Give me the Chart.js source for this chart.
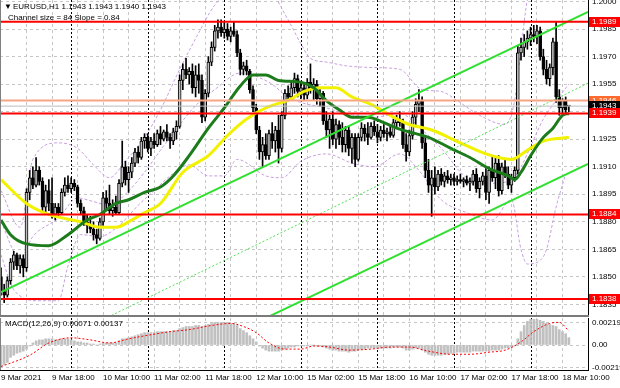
<!DOCTYPE html>
<html lang="en">
<head>
<meta charset="UTF-8">
<title>EURUSD H1</title>
<script src="https://cdn.jsdelivr.net/npm/chart.js"></script>
<style>
    html, body { margin: 0; padding: 0; background: #fff; }
    .pane { position: absolute; left: 0; width: 620px; }
    #mainPane { top: 0; height: 317px; }
    #macdPane { top: 317px; height: 71px; }
</style>
</head>
<body>
<div class="pane" id="mainPane"><canvas id="priceChart"></canvas></div>
<div class="pane" id="macdPane"><canvas id="macdChart"></canvas></div>
<script>
// EURUSD H1, one value per bar: bar 0 = 9 Mar 02:00 ... bar 178 = 18 Mar 12:00
const opens = [
    1.1850, 1.1842, 1.1840, 1.1848, 1.1858, 1.1862, 1.1856, 1.1860, 1.1855, 1.1896,
    1.1904, 1.1900, 1.1908, 1.1902, 1.1888, 1.1897, 1.1890, 1.1884, 1.1888, 1.1885,
    1.1896, 1.1900, 1.1898, 1.1901, 1.1899, 1.1890, 1.1886, 1.1880, 1.1878, 1.1876,
    1.1873, 1.1871, 1.1880, 1.1893, 1.1890, 1.1886, 1.1888, 1.1885, 1.1901, 1.1910,
    1.1903, 1.1907, 1.1912, 1.1918, 1.1915, 1.1924, 1.1926, 1.1920, 1.1924, 1.1922,
    1.1928, 1.1925, 1.1929, 1.1926, 1.1924, 1.1929, 1.1932, 1.1957, 1.1963, 1.1960,
    1.1962, 1.1953, 1.1960, 1.1957, 1.1937, 1.1950, 1.1967, 1.1975, 1.1984, 1.1986,
    1.1983, 1.1985, 1.1981, 1.1984, 1.1982, 1.1972, 1.1963, 1.1965, 1.1962, 1.1952,
    1.1942, 1.1930, 1.1918, 1.1922, 1.1916, 1.1928, 1.1924, 1.1930, 1.1920, 1.1938,
    1.1950, 1.1948, 1.1953, 1.1958, 1.1951, 1.1953, 1.1949, 1.1956, 1.1952, 1.1955,
    1.1947, 1.1950, 1.1935, 1.1930, 1.1936, 1.1925, 1.1933, 1.1926, 1.1922, 1.1930,
    1.1920, 1.1926, 1.1914, 1.1926, 1.1931, 1.1928, 1.1926, 1.1932, 1.1929, 1.1926,
    1.1930, 1.1928, 1.1929, 1.1927, 1.1934, 1.1936, 1.1934, 1.1922, 1.1918, 1.1927,
    1.1937, 1.1944, 1.1946, 1.1923, 1.1908, 1.1900, 1.1904, 1.1899, 1.1906, 1.1902,
    1.1905, 1.1903, 1.1904, 1.1902, 1.1903, 1.1902, 1.1903, 1.1901, 1.1902, 1.1906,
    1.1898, 1.1902, 1.1905, 1.1896, 1.1908, 1.1904, 1.1912, 1.1897, 1.1910, 1.1906,
    1.1900, 1.1904, 1.1908, 1.1972, 1.1975, 1.1978, 1.1980, 1.1982, 1.1981, 1.1984,
    1.1970, 1.1963, 1.1958, 1.1964, 1.1978, 1.1948, 1.1942, 1.1946, 1.1943
];
const highs = [
    1.1855, 1.1846, 1.1850, 1.1860, 1.1864, 1.1863, 1.1862, 1.1862, 1.1898, 1.1908,
    1.1910, 1.1915, 1.1910, 1.1904, 1.1900, 1.1903, 1.1904, 1.1890, 1.1890, 1.1898,
    1.1904, 1.1905, 1.1904, 1.1903, 1.1900, 1.1892, 1.1888, 1.1884, 1.1883, 1.1880,
    1.1876, 1.1882, 1.1896, 1.1897, 1.1900, 1.1892, 1.1894, 1.1903, 1.1924, 1.1913,
    1.1910, 1.1915, 1.1920, 1.1921, 1.1926, 1.1928, 1.1928, 1.1926, 1.1928, 1.1930,
    1.1932, 1.1930, 1.1933, 1.1928, 1.1931, 1.1935, 1.1960, 1.1966, 1.1969, 1.1964,
    1.1966, 1.1965, 1.1966, 1.1960, 1.1952, 1.1970, 1.1978, 1.1987, 1.1990, 1.1990,
    1.1989, 1.1988, 1.1986, 1.1989, 1.1984, 1.1974, 1.1967, 1.1968, 1.1963, 1.1954,
    1.1944, 1.1932, 1.1926, 1.1928, 1.1930, 1.1934, 1.1932, 1.1938, 1.1940, 1.1952,
    1.1954, 1.1956, 1.1961, 1.1960, 1.1956, 1.1955, 1.1958, 1.1966, 1.1958, 1.1957,
    1.1952, 1.1951, 1.1940, 1.1938, 1.1940, 1.1936, 1.1935, 1.1934, 1.1932, 1.1932,
    1.1928, 1.1928, 1.1928, 1.1934, 1.1933, 1.1934, 1.1934, 1.1935, 1.1933, 1.1932,
    1.1933, 1.1931, 1.1932, 1.1936, 1.1938, 1.1940, 1.1936, 1.1928, 1.1930, 1.1940,
    1.1947, 1.1952, 1.1948, 1.1926, 1.1914, 1.1908, 1.1910, 1.1908, 1.1909, 1.1907,
    1.1908, 1.1906, 1.1906, 1.1905, 1.1906, 1.1904, 1.1905, 1.1904, 1.1908, 1.1909,
    1.1904, 1.1907, 1.1909, 1.1910, 1.1916, 1.1915, 1.1916, 1.1912, 1.1914, 1.1910,
    1.1906, 1.1910, 1.1976, 1.1980, 1.1982, 1.1984, 1.1986, 1.1987, 1.1987, 1.1986,
    1.1974, 1.1968, 1.1966, 1.1980, 1.1989, 1.1952, 1.1947, 1.1948, 1.1943
];
const lows = [
    1.1840, 1.1836, 1.1839, 1.1846, 1.1854, 1.1854, 1.1852, 1.1850, 1.1853, 1.1892,
    1.1898, 1.1899, 1.1900, 1.1886, 1.1884, 1.1886, 1.1882, 1.1881, 1.1883, 1.1884,
    1.1894, 1.1896, 1.1896, 1.1897, 1.1888, 1.1884, 1.1878, 1.1874, 1.1874, 1.1870,
    1.1868, 1.1870, 1.1878, 1.1886, 1.1884, 1.1883, 1.1884, 1.1884, 1.1899, 1.1900,
    1.1896, 1.1904, 1.1910, 1.1912, 1.1914, 1.1920, 1.1918, 1.1916, 1.1920, 1.1921,
    1.1922, 1.1924, 1.1924, 1.1920, 1.1922, 1.1925, 1.1931, 1.1952, 1.1958, 1.1955,
    1.1950, 1.1948, 1.1950, 1.1934, 1.1935, 1.1948, 1.1965, 1.1973, 1.1980, 1.1981,
    1.1980, 1.1979, 1.1978, 1.1981, 1.1970, 1.1960, 1.1960, 1.1960, 1.1950, 1.1940,
    1.1928, 1.1914, 1.1910, 1.1914, 1.1914, 1.1920, 1.1918, 1.1912, 1.1918, 1.1936,
    1.1946, 1.1946, 1.1950, 1.1948, 1.1947, 1.1946, 1.1947, 1.1950, 1.1946, 1.1944,
    1.1943, 1.1933, 1.1926, 1.1920, 1.1922, 1.1920, 1.1922, 1.1918, 1.1918, 1.1916,
    1.1912, 1.1910, 1.1913, 1.1924, 1.1924, 1.1922, 1.1925, 1.1927, 1.1923, 1.1924,
    1.1926, 1.1924, 1.1926, 1.1926, 1.1931, 1.1932, 1.1920, 1.1913, 1.1916, 1.1925,
    1.1933, 1.1940, 1.1920, 1.1904, 1.1896, 1.1883, 1.1895, 1.1897, 1.1900, 1.1899,
    1.1901, 1.1900, 1.1900, 1.1900, 1.1901, 1.1899, 1.1900, 1.1897, 1.1900, 1.1896,
    1.1893, 1.1900, 1.1892, 1.1890, 1.1902, 1.1898, 1.1894, 1.1895, 1.1904, 1.1898,
    1.1896, 1.1902, 1.1906, 1.1968, 1.1970, 1.1974, 1.1976, 1.1978, 1.1977, 1.1968,
    1.1960, 1.1955, 1.1954, 1.1960, 1.1945, 1.1938, 1.1939, 1.1939, 1.1940
];
const closes = [
    1.1842, 1.1840, 1.1848, 1.1858, 1.1862, 1.1856, 1.1860, 1.1855, 1.1896, 1.1904,
    1.1900, 1.1908, 1.1902, 1.1888, 1.1897, 1.1890, 1.1884, 1.1888, 1.1885, 1.1896,
    1.1900, 1.1898, 1.1901, 1.1899, 1.1890, 1.1886, 1.1880, 1.1878, 1.1876, 1.1873,
    1.1871, 1.1880, 1.1893, 1.1890, 1.1886, 1.1888, 1.1885, 1.1901, 1.1910, 1.1903,
    1.1907, 1.1912, 1.1918, 1.1915, 1.1924, 1.1926, 1.1920, 1.1924, 1.1922, 1.1928,
    1.1925, 1.1929, 1.1926, 1.1924, 1.1929, 1.1932, 1.1957, 1.1963, 1.1960, 1.1962,
    1.1953, 1.1960, 1.1957, 1.1937, 1.1950, 1.1967, 1.1975, 1.1984, 1.1986, 1.1983,
    1.1985, 1.1981, 1.1984, 1.1982, 1.1972, 1.1963, 1.1965, 1.1962, 1.1952, 1.1942,
    1.1930, 1.1918, 1.1922, 1.1916, 1.1928, 1.1924, 1.1930, 1.1920, 1.1938, 1.1950,
    1.1948, 1.1953, 1.1958, 1.1951, 1.1953, 1.1949, 1.1956, 1.1952, 1.1955, 1.1947,
    1.1950, 1.1935, 1.1930, 1.1936, 1.1925, 1.1933, 1.1926, 1.1922, 1.1930, 1.1920,
    1.1926, 1.1914, 1.1926, 1.1931, 1.1928, 1.1926, 1.1932, 1.1929, 1.1926, 1.1930,
    1.1928, 1.1929, 1.1927, 1.1934, 1.1936, 1.1934, 1.1922, 1.1918, 1.1927, 1.1937,
    1.1944, 1.1946, 1.1923, 1.1908, 1.1900, 1.1904, 1.1899, 1.1906, 1.1902, 1.1905,
    1.1903, 1.1904, 1.1902, 1.1903, 1.1902, 1.1903, 1.1901, 1.1902, 1.1906, 1.1898,
    1.1902, 1.1905, 1.1896, 1.1908, 1.1904, 1.1912, 1.1897, 1.1910, 1.1906, 1.1900,
    1.1904, 1.1908, 1.1972, 1.1975, 1.1978, 1.1980, 1.1982, 1.1981, 1.1984, 1.1970,
    1.1963, 1.1958, 1.1964, 1.1978, 1.1948, 1.1942, 1.1946, 1.1941, 1.1943
];

// moving averages, read at selected bars
const fastMaBars = [0, 3, 8, 15, 21, 27, 31, 36, 40, 45, 50, 54, 59, 65, 70, 75, 79, 83, 87, 94, 98, 102, 106, 110, 115, 120, 124, 130, 134, 141, 147, 153, 159, 161, 163, 166, 170, 173, 176, 178];
const fastMa = [1.1881, 1.1873, 1.1868, 1.1867, 1.1873, 1.1881, 1.1884, 1.1890, 1.1892, 1.1896, 1.1899, 1.1905, 1.1916, 1.1931, 1.1942, 1.1954, 1.1960, 1.1960, 1.1957, 1.1956, 1.1953, 1.1946, 1.1941, 1.1937, 1.1937, 1.1934, 1.1931, 1.1928, 1.1926, 1.1920, 1.1915, 1.1909, 1.1905, 1.1903, 1.1907, 1.1916, 1.1926, 1.1931, 1.1938, 1.1939];
const slowMaBars = [0, 8, 15, 25, 31, 36, 41, 45, 50, 57, 65, 71, 77, 83, 91, 95, 100, 105, 110, 116, 122, 128, 135, 144, 152, 160, 165, 170, 178];
const slowMa = [1.1903, 1.1890, 1.1884, 1.1880, 1.1877, 1.1877, 1.1881, 1.1885, 1.1890, 1.1907, 1.1916, 1.1927, 1.1936, 1.1942, 1.1947, 1.1951, 1.1953, 1.1953, 1.1948, 1.1944, 1.1938, 1.1933, 1.1930, 1.1923, 1.1917, 1.1914, 1.1919, 1.1924, 1.1926];

// bands (upper, middle, lower)
const bandUpBars = [0, 6, 10, 18, 24, 29, 34, 39, 45, 50, 56, 62, 67, 75, 84, 90, 94, 97, 102, 108, 117, 125, 132, 138, 143, 150, 158, 161, 163, 165, 169, 178];
const bandUp = [1.1897, 1.1877, 1.1914, 1.1923, 1.1920, 1.1911, 1.1904, 1.1913, 1.1926, 1.1941, 1.1963, 1.1983, 1.1998, 1.2009, 1.2006, 1.1990, 1.1977, 1.1969, 1.1967, 1.1965, 1.1964, 1.1963, 1.1952, 1.1951, 1.1946, 1.1938, 1.1933, 1.1946, 1.1974, 1.2001, 1.2017, 1.2017];
const bandMidBars = [0, 6, 10, 18, 24, 29, 34, 39, 45, 50, 56, 62, 67, 75, 84, 90, 94, 102, 108, 117, 125, 132, 138, 146, 154, 160, 163, 166, 170, 174, 178];
const bandMid = [1.1880, 1.1860, 1.1872, 1.1882, 1.1893, 1.1891, 1.1889, 1.1895, 1.1907, 1.1919, 1.1933, 1.1945, 1.1952, 1.1961, 1.1956, 1.1948, 1.1945, 1.1942, 1.1939, 1.1937, 1.1939, 1.1930, 1.1920, 1.1904, 1.1901, 1.1903, 1.1910, 1.1921, 1.1936, 1.1946, 1.1955];
const bandLowBars = [0, 4, 12, 18, 21, 25, 31, 37, 43, 48, 53, 59, 65, 70, 74, 83, 88, 94, 102, 110, 117, 125, 131, 138, 146, 154, 160, 163, 165, 169, 171, 174, 177];
const bandLow = [1.1862, 1.1843, 1.1837, 1.1837, 1.1856, 1.1873, 1.1872, 1.1878, 1.1889, 1.1897, 1.1905, 1.1911, 1.1905, 1.1905, 1.1914, 1.1905, 1.1904, 1.1913, 1.1917, 1.1912, 1.1910, 1.1917, 1.1908, 1.1892, 1.1885, 1.1881, 1.1892, 1.1865, 1.1857, 1.1859, 1.1865, 1.1888, 1.1906];

// channel (bar, price at both ends)
const channelTopBars = [-0.3, 184];
const channelTop = [1.18414, 1.19943];
const channelBottomBars = [60, 184];
const channelBottom = [1.18085, 1.19115];
const channelMidBars = [20, 184];
const channelMid = [1.18166, 1.19555];

const redLevels = [1.1989, 1.1939, 1.1884, 1.1838];
const orangeLevel = 1.1946;
const bidLevel = 1.1943;

// MACD(12,26,9): main per bar, signal read at selected bars
const macdMain = [
    -0.0021, -0.0019, -0.0017, -0.0012, -0.0010, -0.0008, -0.0007, -0.0006, -0.0004, -0.0001,
    0.0002, 0.0004, 0.0005, 0.0005, 0.0006, 0.0006, 0.0006, 0.0005, 0.0005, 0.0006,
    0.0006, 0.0006, 0.0005, 0.0004, 0.0003, 0.0003, 0.0002, 0.0002, 0.0001, 0.0001,
    0.0000, 0.0001, 0.0002, 0.0002, 0.0002, 0.0002, 0.0002, 0.0004, 0.0006, 0.0006,
    0.0007, 0.0008, 0.0009, 0.0010, 0.0011, 0.0012, 0.0012, 0.0012, 0.0012, 0.0013,
    0.0013, 0.0013, 0.0013, 0.0013, 0.0014, 0.0014, 0.0016, 0.0017, 0.0018, 0.0018,
    0.0018, 0.0019, 0.0019, 0.0018, 0.0019, 0.0020, 0.0021, 0.0022, 0.0022, 0.0022,
    0.0022, 0.0022, 0.0021, 0.0021, 0.0019, 0.0016, 0.0014, 0.0012, 0.0009, 0.0006,
    0.0003, -0.0001, -0.0003, -0.0005, -0.0006, -0.0006, -0.0006, -0.0006, -0.0005, -0.0004,
    -0.0003, -0.0002, -0.0002, -0.0001, -0.0001, -0.0001, -0.0001, 0.0000, 0.0000, -0.0001,
    -0.0001, -0.0002, -0.0003, -0.0004, -0.0005, -0.0005, -0.0006, -0.0006, -0.0006, -0.0007,
    -0.0006, -0.0006, -0.0005, -0.0004, -0.0004, -0.0003, -0.0003, -0.0003, -0.0003, -0.0003,
    -0.0003, -0.0003, -0.0003, -0.0002, -0.0002, -0.0002, -0.0003, -0.0005, -0.0005, -0.0004,
    -0.0003, -0.0003, -0.0005, -0.0007, -0.0009, -0.0010, -0.0010, -0.0010, -0.0010, -0.0009,
    -0.0009, -0.0008, -0.0008, -0.0007, -0.0007, -0.0007, -0.0007, -0.0007, -0.0006, -0.0006,
    -0.0006, -0.0006, -0.0006, -0.0006, -0.0005, -0.0005, -0.0005, -0.0004, -0.0003, -0.0003,
    -0.0002, -0.0001, 0.0006, 0.0013, 0.0019, 0.0023, 0.0025, 0.0025, 0.0025, 0.0024,
    0.0023, 0.0021, 0.0020, 0.0019, 0.0018, 0.0015, 0.0013, 0.0011, 0.00071
];
const signalBars = [0, 9, 15, 22, 28, 34, 40, 47, 53, 59, 66, 72, 76, 80, 84, 89, 94, 98, 103, 109, 116, 122, 128, 134, 141, 147, 153, 158, 163, 167, 172, 175, 178];
const macdSignal = [-0.0021, -0.0010, 0.0002, 0.0007, 0.0005, 0.0002, 0.0006, 0.0010, 0.0013, 0.0015, 0.0019, 0.0021, 0.0018, 0.0012, 0.0002, -0.0004, -0.0004, -0.0001, -0.0002, -0.0005, -0.0004, -0.0002, -0.0002, -0.0006, -0.0009, -0.0009, -0.0007, -0.0005, 0.0003, 0.0013, 0.0021, 0.0022, 0.00137];

const timeLabels = ['9 Mar 2021', '9 Mar 18:00', '10 Mar 10:00', '11 Mar 02:00', '11 Mar 18:00', '12 Mar 10:00', '15 Mar 02:00', '15 Mar 18:00', '16 Mar 10:00', '17 Mar 02:00', '17 Mar 18:00', '18 Mar 10:00'];
const labelStep = 16;
const gridStep = 8;
const daySeparators = [22, 46, 70, 94, 118, 142, 166];
const priceTicks = [1.1835, 1.1850, 1.1865, 1.1880, 1.1895, 1.1910, 1.1925, 1.1940, 1.1955, 1.1970, 1.1985, 1.2000];
const hiddenPriceTick = 1.1940;
const macdTicks = [-0.00219, 0, 0.00219];
const macdTickLabels = ['-0.00219', '0.00', '0.00219'];

const X_MIN = -0.31, X_MAX = 184.0;
const FONT = 'Liberation Sans';
Chart.defaults.font.family = FONT;
Chart.defaults.font.size = 8;
Chart.defaults.color = '#000';

const barIdx = opens.map((o, i) => i);
const gridBars = [];
for (let b = 0; b <= 176; b += gridStep) gridBars.push(b);

const pts = (xs, ys) => xs.map((x, k) => ({ x: x, y: ys[k] }));
const flat = v => [{ x: X_MIN, y: v }, { x: X_MAX, y: v }];
const lineDs = (data, color, width, dash, order) => ({
    type: 'line', data: data, borderColor: color, borderWidth: width, borderDash: dash,
    pointRadius: 0, cubicInterpolationMode: 'monotone', order: order
});

const separators = {
    id: 'separators',
    beforeDatasetsDraw(chart) {
        const { ctx, chartArea: a, scales: { x } } = chart;
        ctx.save();
        ctx.strokeStyle = '#000';
        ctx.lineWidth = 1;
        ctx.setLineDash([2, 2]);
        daySeparators.forEach(b => {
            const px = Math.round(x.getPixelForValue(b)) + 0.5;
            ctx.beginPath(); ctx.moveTo(px, a.top); ctx.lineTo(px, a.bottom); ctx.stroke();
        });
        ctx.restore();
    }
};

const frame = {
    id: 'frame',
    afterDraw(chart) {
        const { ctx, chartArea: a } = chart;
        ctx.save();
        ctx.fillStyle = '#808080';
        ctx.fillRect(a.left, a.top, 1, a.bottom - a.top);
        ctx.fillStyle = '#000';
        ctx.fillRect(a.right, a.top, 1, a.bottom - a.top + 1);
        if (chart.canvas.id === 'priceChart') {
            ctx.fillStyle = '#7a7a7a';
            ctx.fillRect(a.left, a.bottom - 1, a.right - a.left + 1, 2);
        } else {
            ctx.fillStyle = '#000';
            ctx.fillRect(a.left, a.bottom, a.right - a.left + 1, 1);
        }
        ctx.restore();
    }
};

const priceLabels = {
    id: 'priceLabels',
    afterDraw(chart) {
        const { ctx, chartArea: a, scales: { y } } = chart;
        const box = (v, bg) => {
            const py = Math.round(y.getPixelForValue(v));
            ctx.fillStyle = bg;
            ctx.fillRect(a.right + 1, py - 5, 32, 10);
            ctx.fillStyle = '#fff';
            ctx.fillText(v.toFixed(4), a.right + 4, py);
        };
        ctx.save();
        ctx.font = '8px "' + FONT + '"';
        ctx.textBaseline = 'middle';
        box(orangeLevel, '#ff6a2e');
        box(bidLevel, '#000');
        redLevels.forEach(v => box(v, '#ff0000'));
        // header texts
        ctx.fillStyle = '#000';
        ctx.fillText('\u25BC', 4, 7);
        ctx.fillText('EURUSD,H1 1.1943 1.1943 1.1940 1.1943', 13, 7);
        ctx.fillText('Channel size = 84 Slope = 0.84', 8, 18);
        ctx.restore();
    }
};

const macdText = {
    id: 'macdText',
    afterDraw(chart) {
        const { ctx, chartArea: a } = chart;
        ctx.save();
        ctx.font = '8px "' + FONT + '"';
        ctx.textBaseline = 'middle';
        ctx.fillStyle = '#000';
        ctx.fillText('MACD(12,26,9) 0.00071 0.00137', a.left + 5, a.top + 6);
        ctx.restore();
    }
};

const xScale = (showLabels) => ({
    type: 'linear', min: X_MIN, max: X_MAX, offset: false,
    afterBuildTicks: s => { s.ticks = gridBars.map(v => ({ value: v })); },
    ticks: {
        display: showLabels, autoSkip: false, maxRotation: 0, align: 'start', padding: 3,
        callback: v => (v % labelStep === 0 ? timeLabels[v / labelStep] : '')
    },
    grid: { color: '#c6c6c6', drawTicks: false, offset: false },
    border: { display: false, dash: [3, 3] },
    afterFit: s => { s.height = showLabels ? 18 : 0; s.paddingLeft = 0; s.paddingRight = 0; }
});

const commonOpts = {
    responsive: true, maintainAspectRatio: false, animation: false, devicePixelRatio: 1,
    events: [],
    plugins: { legend: { display: false }, tooltip: { enabled: false } }
};

const bandColor = '#c79fe0';

new Chart(document.getElementById('priceChart'), {
    type: 'bar',
    data: {
        datasets: [
            lineDs(pts(bandUpBars, bandUp), bandColor, 1, [3, 2], 12),
            lineDs(pts(bandMidBars, bandMid), bandColor, 1, [3, 2], 12),
            lineDs(pts(bandLowBars, bandLow), bandColor, 1, [3, 2], 12),
            {
                data: barIdx.map(i => ({ x: i, y: [lows[i], highs[i]] })),
                backgroundColor: '#000', barThickness: 1, grouped: false, order: 11
            },
            {
                data: barIdx.map(i => ({ x: i, y: [Math.min(opens[i], closes[i]), Math.max(opens[i], closes[i])] })),
                backgroundColor: barIdx.map(i => (closes[i] >= opens[i] ? '#bdbdbd' : '#000')),
                borderColor: '#000', borderWidth: 1, borderSkipped: false,
                barThickness: 3, grouped: false, minBarLength: 1, order: 10
            },
            lineDs(pts(slowMaBars, slowMa), '#f2f200', 3, [], 7),
            lineDs(pts(fastMaBars, fastMa), '#1c7c1c', 3, [], 6),
            lineDs(pts(channelTopBars, channelTop), '#2fe02f', 2, [], 5),
            lineDs(pts(channelBottomBars, channelBottom), '#2fe02f', 2, [], 5),
            lineDs(pts(channelMidBars, channelMid), '#52e052', 1, [2, 2], 5),
            lineDs(flat(bidLevel), '#bcbcbc', 1, [], 4),
            lineDs(flat(orangeLevel), '#f7a585', 2, [], 3),
            ...redLevels.map(v => lineDs(flat(v), '#ff0000', 2, [], 2))
        ]
    },
    options: {
        ...commonOpts,
        layout: { padding: { top: 0, bottom: 1, left: 0, right: 0 } },
        scales: {
            x: xScale(false),
            y: {
                type: 'linear', position: 'right', min: 1.18287, max: 1.20008,
                afterBuildTicks: s => { s.ticks = priceTicks.map(v => ({ value: v })); },
                ticks: {
                    padding: 4,
                    callback: v => (Math.abs(v - hiddenPriceTick) < 1e-6 ? '' : v.toFixed(4))
                },
                grid: { color: '#c6c6c6', drawTicks: false },
                border: { display: false, dash: [3, 3] },
                afterFit: s => { s.width = 32; s.paddingTop = 0; s.paddingBottom = 0; }
            }
        }
    },
    plugins: [separators, frame, priceLabels]
});

new Chart(document.getElementById('macdChart'), {
    type: 'bar',
    data: {
        datasets: [
            lineDs(pts(signalBars, macdSignal), '#ff0000', 1, [2, 2], 1),
            {
                data: barIdx.map(i => ({ x: i, y: macdMain[i] })),
                backgroundColor: '#c0c0c0', barThickness: 2, grouped: false, order: 2
            }
        ]
    },
    options: {
        ...commonOpts,
        layout: { padding: { top: 1, bottom: 0, left: 0, right: 0 } },
        scales: {
            x: xScale(true),
            y: {
                type: 'linear', position: 'right', min: -0.002433, max: 0.002628,
                afterBuildTicks: s => { s.ticks = macdTicks.map(v => ({ value: v })); },
                ticks: { padding: 4, callback: (v, i) => macdTickLabels[i] },
                grid: { color: '#c6c6c6', drawTicks: false },
                border: { display: false, dash: [3, 3] },
                afterFit: s => { s.width = 32; s.paddingTop = 0; s.paddingBottom = 0; }
            }
        }
    },
    plugins: [separators, frame, macdText]
});
</script>
</body>
</html>
